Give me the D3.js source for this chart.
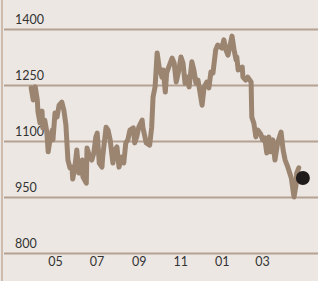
<!DOCTYPE html>
<html><head><meta charset="utf-8">
<script src="https://cdn.jsdelivr.net/npm/d3@7"></script>
<style>html,body{margin:0;padding:0;background:#ece7e3;}svg{display:block;}</style>
</head><body><svg id="c" width="318" height="281"></svg>
<script>
const dates = ["2012-03-27","2012-03-30","2012-04-02","2012-04-05","2012-04-06","2012-04-09","2012-04-12","2012-04-13","2012-04-16","2012-04-19","2012-04-21","2012-04-24","2012-04-27","2012-04-28","2012-05-01","2012-05-04","2012-05-07","2012-05-11","2012-05-14","2012-05-17","2012-05-20","2012-05-23","2012-05-26","2012-05-27","2012-05-30","2012-06-02","2012-06-05","2012-06-10","2012-06-11","2012-06-16","2012-06-17","2012-06-21","2012-06-24","2012-06-27","2012-06-30","2012-07-02","2012-07-05","2012-07-09","2012-07-10","2012-07-15","2012-07-18","2012-07-21","2012-07-25","2012-07-28","2012-07-31","2012-08-03","2012-08-07","2012-08-10","2012-08-13","2012-08-16","2012-08-19","2012-08-24","2012-08-26","2012-08-29","2012-09-01","2012-09-06","2012-09-07","2012-09-12","2012-09-17","2012-09-20","2012-09-22","2012-09-25","2012-09-28","2012-10-01","2012-10-05","2012-10-07","2012-10-10","2012-10-12","2012-10-15","2012-10-20","2012-10-23","2012-10-26","2012-10-29","2012-11-02","2012-11-05","2012-11-08","2012-11-11","2012-11-14","2012-11-18","2012-11-21","2012-11-24","2012-11-27","2012-12-03","2012-12-06","2012-12-10","2012-12-13","2012-12-16","2012-12-19","2012-12-23","2012-12-26","2013-01-01","2013-01-04","2013-01-07","2013-01-10","2013-01-16","2013-01-19","2013-01-22","2013-01-23","2013-01-25","2013-01-31","2013-02-01","2013-02-05","2013-02-08","2013-02-13","2013-02-14","2013-02-17","2013-02-20","2013-02-23","2013-02-27","2013-03-02","2013-03-05","2013-03-08","2013-03-11","2013-03-14","2013-03-17","2013-03-20","2013-03-24","2013-03-29","2013-04-01","2013-04-04","2013-04-08","2013-04-13","2013-04-17","2013-04-20","2013-04-21","2013-04-24"];
const values = [1242,1210,1245,1210,1178,1148,1180,1135,1156,1124,1071,1108,1129,1103,1175,1164,1196,1204,1183,1143,1049,1028,1030,998,1028,1076,1014,1049,1004,987,1081,1057,1049,1068,1111,1121,1041,1030,1057,1137,1129,1103,1041,1076,1084,1030,1057,1041,1095,1103,1129,1135,1095,1111,1137,1156,1137,1095,1089,1137,1218,1245,1336,1298,1271,1290,1231,1282,1298,1322,1309,1258,1282,1325,1309,1255,1271,1245,1312,1290,1255,1263,1196,1245,1258,1242,1285,1282,1344,1357,1349,1371,1344,1330,1381,1344,1317,1325,1290,1298,1271,1263,1271,1258,1164,1148,1111,1129,1119,1103,1108,1068,1111,1071,1103,1049,1095,1124,1076,1049,1030,1001,950,982,1014,1028];
const lastDate = "2013-04-30";
const lastValue = 1001;
const yTicks = [800, 950, 1100, 1250, 1400];
const xTickDates = ["2012-05-01","2012-07-01","2012-09-01","2012-11-01","2013-01-01","2013-03-01"];

const parse = d3.timeParse("%Y-%m-%d");
const svg = d3.select("#c");
const W = 318, H = 281;

const x = d3.scaleTime()
  .domain([parse("2012-05-01"), parse("2013-03-01")])
  .range([55, 262]);
const y = d3.scaleLinear().domain([800, 1400]).range([253, 29]);

// left border
svg.append("line").attr("x1", 2).attr("x2", 2).attr("y1", 0).attr("y2", H)
  .attr("stroke", "#cdbcae").attr("stroke-width", 2);

// grid lines & y labels
const yAxis = d3.axisRight(y).tickValues(yTicks).tickSize(W - 4).tickFormat(d3.format("d"));
const gy = svg.append("g").attr("transform", "translate(4,0)").call(yAxis);
gy.select(".domain").remove();
gy.selectAll(".tick line").attr("stroke", "#b5a191").attr("stroke-width", 2);
gy.selectAll(".tick text")
  .attr("x", 11).attr("dy", -6).attr("y", 0)
  .attr("text-anchor", "start")
  .attr("font-family", "Lato, 'Open Sans', sans-serif")
  .attr("font-size", 12.5).attr("fill", "#333");

// x labels
const xAxis = d3.axisBottom(x).tickValues(xTickDates.map(parse)).tickSize(0).tickFormat(d3.timeFormat("%m"));
const gx = svg.append("g").attr("transform", "translate(0,262)").call(xAxis);
gx.select(".domain").remove();
gx.selectAll(".tick text")
  .attr("y", 0).attr("dy", "0.35em")
  .attr("font-family", "Lato, 'Open Sans', sans-serif")
  .attr("font-size", 12.5).attr("fill", "#333");

const data = dates.map((d, i) => ({ date: parse(d), value: values[i] }));
const line = d3.line().x(d => x(d.date)).y(d => y(d.value));
svg.append("path").datum(data).attr("d", line)
  .attr("fill", "none").attr("stroke", "#9b8571").attr("stroke-width", 5)
  .attr("stroke-linejoin", "round").attr("stroke-linecap", "round");

svg.append("circle").attr("cx", x(parse(lastDate))).attr("cy", y(lastValue)).attr("r", 7)
  .attr("fill", "#1e1b1a");
</script></body></html>
